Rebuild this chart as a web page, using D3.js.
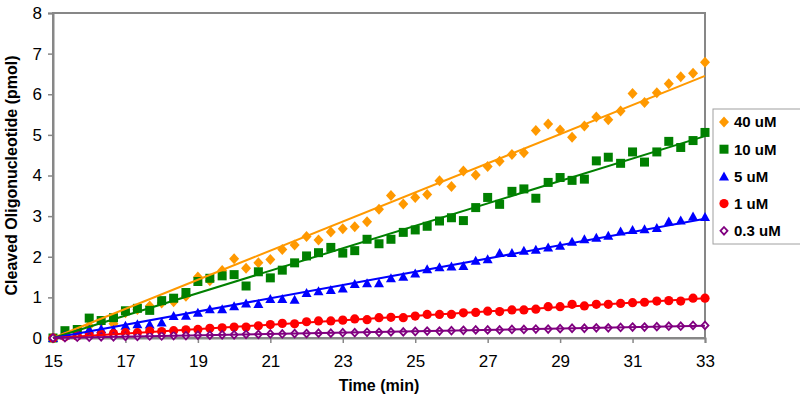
<!DOCTYPE html>
<html><head><meta charset="utf-8">
<script src="https://cdn.jsdelivr.net/npm/d3@7"></script>
<style>body{margin:0;background:#fff}svg{display:block;font-family:Arial,"Liberation Sans",sans-serif}</style>
</head><body><svg id="c" width="800" height="400"></svg>
<script>
const times = [15,15.33,15.67,16,16.33,16.67,17,17.33,17.67,18,18.33,18.67,19,19.33,19.67,20,20.33,20.67,21,21.33,21.67,22,22.33,22.67,23,23.33,23.67,24,24.33,24.67,25,25.33,25.67,26,26.33,26.67,27,27.33,27.67,28,28.33,28.67,29,29.33,29.67,30,30.33,30.67,31,31.33,31.67,32,32.33,32.67,33];
const seriesNames = ["40 uM","10 uM","5 uM","1 uM","0.3 uM"];
const s40 = [0,0.08,0.17,0.30,0.40,0.35,0.62,0.70,0.79,0.86,0.89,
  1.03,1.50,1.41,1.66,1.95,1.72,1.85,1.93,2.18,2.29,
  2.50,2.41,2.61,2.69,2.74,2.86,3.17,3.51,3.30,3.46,
  3.53,3.87,3.73,4.11,4.01,4.22,4.35,4.52,4.56,5.11,
  5.27,5.12,4.94,5.22,5.44,5.37,5.59,6.02,5.80,6.04,
  6.26,6.43,6.52,6.79];
const s10 = [0,0.18,0.21,0.49,0.43,0.50,0.67,0.73,0.68,0.92,0.98,
  1.12,1.39,1.47,1.53,1.56,1.28,1.63,1.48,1.67,1.85,
  2.02,2.10,2.23,2.09,2.15,2.43,2.32,2.43,2.60,2.66,
  2.75,2.88,2.96,2.89,3.21,3.46,3.29,3.61,3.67,3.44,
  3.83,3.95,3.88,3.91,4.36,4.45,4.30,4.58,4.33,4.58,
  4.84,4.69,4.86,5.06];
const s5 = [0,0.06,0.14,0.21,0.22,0.20,0.30,0.34,0.33,0.38,0.54,
  0.55,0.62,0.71,0.71,0.78,0.85,0.84,0.96,0.96,0.94,
  1.11,1.15,1.18,1.22,1.33,1.35,1.35,1.47,1.51,1.59,
  1.69,1.74,1.76,1.77,1.90,1.94,2.09,2.09,2.15,2.17,
  2.23,2.27,2.37,2.43,2.47,2.52,2.62,2.66,2.68,2.71,
  2.87,2.89,2.99,2.98];
const s1 = [0,0.03,0.05,0.07,0.09,0.11,0.13,0.13,0.17,0.16,0.18,
  0.20,0.21,0.24,0.25,0.27,0.27,0.30,0.33,0.36,0.35,
  0.40,0.42,0.42,0.44,0.47,0.45,0.50,0.51,0.50,0.54,
  0.58,0.58,0.58,0.62,0.63,0.66,0.65,0.69,0.69,0.71,
  0.77,0.77,0.83,0.79,0.83,0.83,0.85,0.87,0.88,0.91,
  0.92,0.91,0.98,0.98];
const s03 = [0,0.01,0.02,0.02,0.03,0.03,0.04,0.04,0.05,0.05,0.06,
  0.06,0.07,0.07,0.08,0.08,0.09,0.09,0.10,0.10,0.11,
  0.11,0.12,0.12,0.13,0.13,0.14,0.14,0.15,0.15,0.16,
  0.17,0.17,0.18,0.19,0.20,0.20,0.20,0.21,0.21,0.22,
  0.22,0.23,0.24,0.24,0.25,0.25,0.26,0.27,0.27,0.28,
  0.29,0.29,0.31,0.31];
const xTicks = [15,17,19,21,23,25,27,29,31,33];
const yTicks = [0,1,2,3,4,5,6,7,8];

const seriesValues = [s40,s10,s5,s1,s03];
const colors = ["#FF9900","#008000","#0000FF","#FF0000","#800080"];
const shapes = ["diamond","square","triangle","circle","odiamond"];

const svg = d3.select("#c");
const L=53,R=705,T=13,B=338;
const x = d3.scaleLinear().domain([15,33]).range([L,R]);
const y = d3.scaleLinear().domain([0,8]).range([B,T]);
const gray="#878787";

svg.append("rect").attr("x",L).attr("y",T).attr("width",R-L).attr("height",B-T)
  .attr("fill","#fff").attr("stroke",gray).attr("stroke-width",2);

const yAx = svg.append("g").attr("transform",`translate(${L},0)`)
  .call(d3.axisLeft(y).tickValues(yTicks).tickSize(5).tickPadding(6).tickFormat(d3.format("d")));
const xAx = svg.append("g").attr("transform",`translate(0,${B})`)
  .call(d3.axisBottom(x).tickValues(xTicks).tickSize(5).tickPadding(12).tickFormat(d3.format("d")));
[yAx,xAx].forEach(a=>{
  a.select(".domain").attr("stroke",gray).attr("stroke-width",2);
  a.selectAll(".tick line").attr("stroke",gray).attr("stroke-width",1.5);
  a.selectAll("text").attr("font-size",17).attr("fill","#000")
   .attr("font-family","Arial, 'Liberation Sans', sans-serif");
});

function symbolPath(shape){
  switch(shape){
    case "diamond": return "M0,-5.5L5,0L0,5.5L-5,0Z";
    case "square": return "M-4.5,-4.5H4.5V4.5H-4.5Z";
    case "triangle": return "M0,-5L5,4L-5,4Z";
    case "circle": return d3.symbol(d3.symbolCircle, Math.PI*4.6*4.6)();
    case "odiamond": return "M0,-3.8L3.5,0L0,3.8L-3.5,0Z";
  }
}
function drawMarker(g, shape, color){
  const p = g.append("path").attr("d",symbolPath(shape));
  if(shape==="odiamond") p.attr("fill","#fff").attr("stroke",color).attr("stroke-width",1.8);
  else p.attr("fill",color);
}

seriesValues.forEach((vals,i)=>{
  const g = svg.append("g");
  vals.forEach((v,k)=>{
    const m = g.append("g").attr("transform",`translate(${x(times[k])},${y(v)})`);
    drawMarker(m, shapes[i], colors[i]);
  });
});

// linear trendlines, least squares through the first point (t0, 0)
seriesValues.forEach((vals,i)=>{
  const t0=times[0], n=vals.length, t1=times[n-1];
  let sxy=0,sxx=0;
  for(let k=0;k<n;k++){const d=times[k]-t0; sxy+=d*(vals[k]-vals[0]); sxx+=d*d;}
  const b=sxy/sxx;
  svg.append("line").attr("x1",x(t0)).attr("y1",y(vals[0]))
    .attr("x2",x(t1)).attr("y2",y(vals[0]+b*(t1-t0)))
    .attr("stroke",colors[i]).attr("stroke-width",2);
});

svg.append("text").attr("x",(L+R)/2).attr("y",391).attr("text-anchor","middle")
  .attr("font-size",16).attr("font-weight","bold").text("Time (min)");
svg.append("text").attr("transform",`translate(17,${(T+B)/2}) rotate(-90)`)
  .attr("text-anchor","middle").attr("font-size",16).attr("font-weight","bold")
  .text("Cleaved Oligonucleotide (pmol)");

const lg = svg.append("g");
lg.append("rect").attr("x",713).attr("y",109).attr("width",100).attr("height",135)
  .attr("fill","#fff").attr("stroke","#a0a0a0").attr("stroke-width",1);
seriesNames.forEach((nm,i)=>{
  const yy = 122 + i*27.2;
  const m = lg.append("g").attr("transform",`translate(724,${yy})`);
  drawMarker(m, shapes[i], colors[i]);
  lg.append("text").attr("x",734).attr("y",yy).attr("dy","0.36em")
    .attr("font-size",15).attr("font-weight","bold").text(nm);
});
</script></body></html>
